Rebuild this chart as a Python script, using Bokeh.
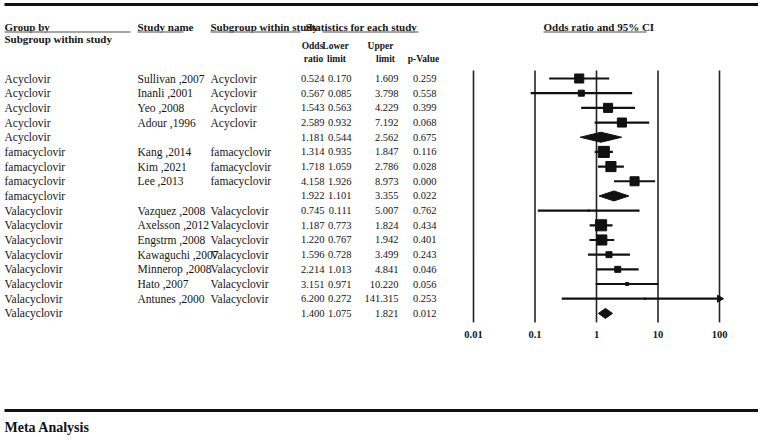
import math
from bokeh.plotting import figure
from bokeh.models import Range1d, LogScale, ColumnDataSource
from bokeh.core.properties import value
from bokeh.embed import file_html
from bokeh.resources import INLINE

# ---------------- data ----------------
group_by = ["Acyclovir"] * 5 + ["famacyclovir"] * 4 + ["Valacyclovir"] * 8
study_name = ["Sullivan ,2007", "Inanli ,2001", "Yeo ,2008", "Adour ,1996", "",
              "Kang ,2014", "Kim ,2021", "Lee ,2013", "",
              "Vazquez ,2008", "Axelsson ,2012", "Engstrm ,2008", "Kawaguchi ,2007",
              "Minnerop ,2008", "Hato ,2007", "Antunes ,2000", ""]
subgroup = ["Acyclovir"] * 4 + [""] + ["famacyclovir"] * 3 + [""] + ["Valacyclovir"] * 7 + [""]
odds_ratio = [0.524, 0.567, 1.543, 2.589, 1.181, 1.314, 1.718, 4.158, 1.922,
              0.745, 1.187, 1.220, 1.596, 2.214, 3.151, 6.200, 1.400]
lower_limit = [0.170, 0.085, 0.563, 0.932, 0.544, 0.935, 1.059, 1.926, 1.101,
               0.111, 0.773, 0.767, 0.728, 1.013, 0.971, 0.272, 1.075]
upper_limit = [1.609, 3.798, 4.229, 7.192, 2.562, 1.847, 2.786, 8.973, 3.355,
               5.007, 1.824, 1.942, 3.499, 4.841, 10.220, 141.315, 1.821]
p_value = [0.259, 0.558, 0.399, 0.068, 0.675, 0.116, 0.028, 0.000, 0.022,
           0.762, 0.434, 0.401, 0.243, 0.046, 0.056, 0.253, 0.012]
is_summary = [False, False, False, False, True, False, False, False, True,
              False, False, False, False, False, False, False, True]
# relative study weights (box areas)
weights = [8.0, 3.5, 8.0, 8.0, 0, 12.0, 10.0, 8.0, 0,
           0.2, 12.0, 10.0, 3.5, 3.5, 0.9, 0.2, 0]
tick_values = [0.01, 0.1, 1, 10, 100]
tick_labels = ["0.01", "0.1", "1", "10", "100"]
axis_max = 100

# ---------------- layout ----------------
W, H = 758, 440
FONT = value("Liberation Serif")
INK = "#151515"
row0, row_step = 78.0, 14.68
row_y = [row0 + i * row_step for i in range(len(odds_ratio))]

# log scale for forest part: 0.01 at px 473, 100 at px 719
x001, x100 = 473.0, 719.0
dec = (x100 - x001) / 4.0
lo_log = -2 - x001 / dec
hi_log = 2 + (W - x100) / dec

p = figure(width=W, height=H, x_range=Range1d(0, W), y_range=Range1d(H, 0),
           output_backend="svg", toolbar_location=None, min_border=0,
           x_axis_type=None, y_axis_type=None, title=None)
p.outline_line_color = None
p.background_fill_color = "white"
p.border_fill_color = "white"
p.extra_x_ranges = {"or": Range1d(10 ** lo_log, 10 ** hi_log)}
p.extra_x_scales = {"or": LogScale()}


def txt(x, y, t, size="11px", style="normal", align="left", color=INK):
    p.text(x=[x], y=[y], text=[t], text_font=FONT, text_font_size=size,
           text_font_style=style, text_align=align, text_baseline="middle",
           text_color=color)


# top / bottom rules
p.segment(x0=[4], x1=[W], y0=[4], y1=[4], line_width=3, line_color="#111")
p.segment(x0=[4], x1=[W], y0=[410], y1=[410], line_width=3, line_color="#111")
txt(4, 427, "Meta Analysis", size="14px", style="bold", color="#111")

# headers
hy1, hy2 = 26, 38
txt(4, hy1, "Group by", style="bold")
txt(4, hy2, "Subgroup within study", style="bold")
txt(137, hy1, "Study name", style="bold")
txt(210, hy1, "Subgroup within study", style="bold")
txt(305, hy1, "Statistics for each study", style="bold")
txt(543, hy1, "Odds ratio and 95% CI", style="bold")
ul_y = 31.5
p.segment(x0=[4, 137, 210, 322, 543], x1=[130, 183, 300, 418, 646],
          y0=[ul_y] * 5, y1=[ul_y] * 5, line_width=1.3, line_color="#888")

hs = "9.5px"
txt(312, 45, "Odds", size=hs, style="bold", align="center")
txt(313, 58, "ratio", size=hs, style="bold", align="center")
txt(335, 45, "Lower", size=hs, style="bold", align="center")
txt(336, 58, "limit", size=hs, style="bold", align="center")
txt(380, 45, "Upper", size=hs, style="bold", align="center")
txt(385, 58, "limit", size=hs, style="bold", align="center")
txt(423, 58, "p-Value", size=hs, style="bold", align="center")

# table body
src = ColumnDataSource(dict(
    y=row_y, g=group_by, s=study_name, sg=subgroup,
    o=[f"{v:.3f}" for v in odds_ratio],
    l=[f"{v:.3f}" for v in lower_limit],
    u=[f"{v:.3f}" for v in upper_limit],
    pv=[f"{v:.3f}" for v in p_value],
))
common = dict(source=src, y="y", text_font=FONT,
              text_baseline="middle", text_color=INK)
p.text(x=4, text="g", text_align="left", text_font_size="11.5px", **common)
p.text(x=137, text="s", text_align="left", text_font_size="11.5px", **common)
p.text(x=210, text="sg", text_align="left", text_font_size="11.5px", **common)
p.text(x=324, text="o", text_align="right", text_font_size="10.5px", **common)
p.text(x=351, text="l", text_align="right", text_font_size="10.5px", **common)
p.text(x=398, text="u", text_align="right", text_font_size="10.5px", **common)
p.text(x=436, text="pv", text_align="right", text_font_size="10.5px", **common)

# forest plot: reference lines
top_y = row_y[0] - 8
bot_y = row_y[-1] + 9
p.segment(x0=tick_values, x1=tick_values, y0=[top_y] * 5, y1=[bot_y] * 5,
          x_range_name="or", line_width=1.6, line_color="#222")
p.text(x=tick_values, y=[bot_y + 12] * 5, text=tick_labels, x_range_name="or",
       text_font=FONT, text_font_size="10.5px", text_font_style="bold",
       text_align="center", text_baseline="middle", text_color=INK)

# studies
st = [i for i in range(len(odds_ratio)) if not is_summary[i]]
p.segment(x0=[lower_limit[i] for i in st],
          x1=[min(upper_limit[i], axis_max) for i in st],
          y0=[row_y[i] for i in st], y1=[row_y[i] for i in st],
          x_range_name="or", line_width=2.2, line_color="#111")
p.scatter(x=[odds_ratio[i] for i in st], y=[row_y[i] for i in st],
          size=[3.2 * math.sqrt(weights[i]) for i in st], marker="square",
          fill_color="#111", line_color="#111", x_range_name="or")
# arrow for truncated CI
arr = [i for i in st if upper_limit[i] > axis_max]
p.scatter(x=[axis_max] * len(arr), y=[row_y[i] for i in arr], size=7,
          marker="triangle", angle=-math.pi / 2, fill_color="#111",
          line_color="#111", x_range_name="or")

# summary diamonds
sm = [i for i in range(len(odds_ratio)) if is_summary[i]]
hh = 5
p.patches(xs=[[lower_limit[i], odds_ratio[i], upper_limit[i], odds_ratio[i]] for i in sm],
          ys=[[row_y[i], row_y[i] - hh, row_y[i], row_y[i] + hh] for i in sm],
          fill_color="#111", line_color="#111", x_range_name="or")

open("out.html", "w").write(file_html(p, INLINE))
